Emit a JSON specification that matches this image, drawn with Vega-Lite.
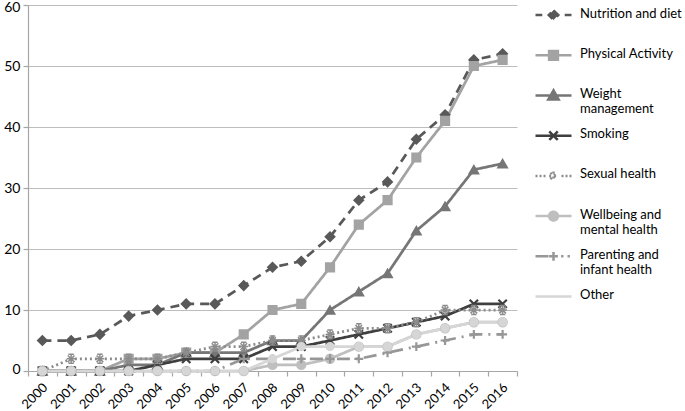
{
  "$schema": "https://vega.github.io/schema/vega-lite/v6.json",
  "width": 489,
  "height": 366,
  "autosize": {"type": "none"},
  "padding": {"left": 28, "top": 5, "right": 168, "bottom": 40},
  "background": "white",
  "config": {
    "view": {"stroke": null},
    "font": "Lato",
    "legend": {
      "orient": "none",
      "legendX": 506,
      "legendY": -7,
      "padding": 0,
      "rowPadding": 2.2,
      "gridAlign": "all",
      "labelFont": "Lato",
      "labelFontSize": 13,
      "labelColor": "#000000",
      "labelBaseline": "top",
      "labelOffset": 27,
      "labelLimit": 200,
      "symbolSize": 256,
      "symbolStrokeWidth": 2.5,
      "title": null
    }
  },
  "data": {
    "values": [
      {"series": "Nutrition and diet", "year": 2000, "count": 5},
      {"series": "Nutrition and diet", "year": 2001, "count": 5},
      {"series": "Nutrition and diet", "year": 2002, "count": 6},
      {"series": "Nutrition and diet", "year": 2003, "count": 9},
      {"series": "Nutrition and diet", "year": 2004, "count": 10},
      {"series": "Nutrition and diet", "year": 2005, "count": 11},
      {"series": "Nutrition and diet", "year": 2006, "count": 11},
      {"series": "Nutrition and diet", "year": 2007, "count": 14},
      {"series": "Nutrition and diet", "year": 2008, "count": 17},
      {"series": "Nutrition and diet", "year": 2009, "count": 18},
      {"series": "Nutrition and diet", "year": 2010, "count": 22},
      {"series": "Nutrition and diet", "year": 2011, "count": 28},
      {"series": "Nutrition and diet", "year": 2012, "count": 31},
      {"series": "Nutrition and diet", "year": 2013, "count": 38},
      {"series": "Nutrition and diet", "year": 2014, "count": 42},
      {"series": "Nutrition and diet", "year": 2015, "count": 51},
      {"series": "Nutrition and diet", "year": 2016, "count": 52},
      {"series": "Physical Activity", "year": 2000, "count": 0},
      {"series": "Physical Activity", "year": 2001, "count": 0},
      {"series": "Physical Activity", "year": 2002, "count": 0},
      {"series": "Physical Activity", "year": 2003, "count": 2},
      {"series": "Physical Activity", "year": 2004, "count": 2},
      {"series": "Physical Activity", "year": 2005, "count": 3},
      {"series": "Physical Activity", "year": 2006, "count": 3},
      {"series": "Physical Activity", "year": 2007, "count": 6},
      {"series": "Physical Activity", "year": 2008, "count": 10},
      {"series": "Physical Activity", "year": 2009, "count": 11},
      {"series": "Physical Activity", "year": 2010, "count": 17},
      {"series": "Physical Activity", "year": 2011, "count": 24},
      {"series": "Physical Activity", "year": 2012, "count": 28},
      {"series": "Physical Activity", "year": 2013, "count": 35},
      {"series": "Physical Activity", "year": 2014, "count": 41},
      {"series": "Physical Activity", "year": 2015, "count": 50},
      {"series": "Physical Activity", "year": 2016, "count": 51},
      {"series": "Weight management", "year": 2000, "count": 0},
      {"series": "Weight management", "year": 2001, "count": 0},
      {"series": "Weight management", "year": 2002, "count": 0},
      {"series": "Weight management", "year": 2003, "count": 1},
      {"series": "Weight management", "year": 2004, "count": 1},
      {"series": "Weight management", "year": 2005, "count": 3},
      {"series": "Weight management", "year": 2006, "count": 3},
      {"series": "Weight management", "year": 2007, "count": 3},
      {"series": "Weight management", "year": 2008, "count": 5},
      {"series": "Weight management", "year": 2009, "count": 5},
      {"series": "Weight management", "year": 2010, "count": 10},
      {"series": "Weight management", "year": 2011, "count": 13},
      {"series": "Weight management", "year": 2012, "count": 16},
      {"series": "Weight management", "year": 2013, "count": 23},
      {"series": "Weight management", "year": 2014, "count": 27},
      {"series": "Weight management", "year": 2015, "count": 33},
      {"series": "Weight management", "year": 2016, "count": 34},
      {"series": "Smoking", "year": 2000, "count": 0},
      {"series": "Smoking", "year": 2001, "count": 0},
      {"series": "Smoking", "year": 2002, "count": 0},
      {"series": "Smoking", "year": 2003, "count": 0},
      {"series": "Smoking", "year": 2004, "count": 1},
      {"series": "Smoking", "year": 2005, "count": 2},
      {"series": "Smoking", "year": 2006, "count": 2},
      {"series": "Smoking", "year": 2007, "count": 2},
      {"series": "Smoking", "year": 2008, "count": 4},
      {"series": "Smoking", "year": 2009, "count": 4},
      {"series": "Smoking", "year": 2010, "count": 5},
      {"series": "Smoking", "year": 2011, "count": 6},
      {"series": "Smoking", "year": 2012, "count": 7},
      {"series": "Smoking", "year": 2013, "count": 8},
      {"series": "Smoking", "year": 2014, "count": 9},
      {"series": "Smoking", "year": 2015, "count": 11},
      {"series": "Smoking", "year": 2016, "count": 11},
      {"series": "Sexual health", "year": 2000, "count": 0},
      {"series": "Sexual health", "year": 2001, "count": 2},
      {"series": "Sexual health", "year": 2002, "count": 2},
      {"series": "Sexual health", "year": 2003, "count": 2},
      {"series": "Sexual health", "year": 2004, "count": 2},
      {"series": "Sexual health", "year": 2005, "count": 3},
      {"series": "Sexual health", "year": 2006, "count": 4},
      {"series": "Sexual health", "year": 2007, "count": 4},
      {"series": "Sexual health", "year": 2008, "count": 5},
      {"series": "Sexual health", "year": 2009, "count": 5},
      {"series": "Sexual health", "year": 2010, "count": 6},
      {"series": "Sexual health", "year": 2011, "count": 7},
      {"series": "Sexual health", "year": 2012, "count": 7},
      {"series": "Sexual health", "year": 2013, "count": 8},
      {"series": "Sexual health", "year": 2014, "count": 10},
      {"series": "Sexual health", "year": 2015, "count": 10},
      {"series": "Sexual health", "year": 2016, "count": 10},
      {"series": "Wellbeing and mental health", "year": 2000, "count": 0},
      {"series": "Wellbeing and mental health", "year": 2001, "count": 0},
      {"series": "Wellbeing and mental health", "year": 2002, "count": 0},
      {"series": "Wellbeing and mental health", "year": 2003, "count": 0},
      {"series": "Wellbeing and mental health", "year": 2004, "count": 0},
      {"series": "Wellbeing and mental health", "year": 2005, "count": 0},
      {"series": "Wellbeing and mental health", "year": 2006, "count": 0},
      {"series": "Wellbeing and mental health", "year": 2007, "count": 0},
      {"series": "Wellbeing and mental health", "year": 2008, "count": 1},
      {"series": "Wellbeing and mental health", "year": 2009, "count": 1},
      {"series": "Wellbeing and mental health", "year": 2010, "count": 2},
      {"series": "Wellbeing and mental health", "year": 2011, "count": 4},
      {"series": "Wellbeing and mental health", "year": 2012, "count": 4},
      {"series": "Wellbeing and mental health", "year": 2013, "count": 6},
      {"series": "Wellbeing and mental health", "year": 2014, "count": 7},
      {"series": "Wellbeing and mental health", "year": 2015, "count": 8},
      {"series": "Wellbeing and mental health", "year": 2016, "count": 8},
      {"series": "Parenting and infant health", "year": 2000, "count": 0},
      {"series": "Parenting and infant health", "year": 2001, "count": 0},
      {"series": "Parenting and infant health", "year": 2002, "count": 0},
      {"series": "Parenting and infant health", "year": 2003, "count": 0},
      {"series": "Parenting and infant health", "year": 2004, "count": 0},
      {"series": "Parenting and infant health", "year": 2005, "count": 0},
      {"series": "Parenting and infant health", "year": 2006, "count": 0},
      {"series": "Parenting and infant health", "year": 2007, "count": 2},
      {"series": "Parenting and infant health", "year": 2008, "count": 2},
      {"series": "Parenting and infant health", "year": 2009, "count": 2},
      {"series": "Parenting and infant health", "year": 2010, "count": 2},
      {"series": "Parenting and infant health", "year": 2011, "count": 2},
      {"series": "Parenting and infant health", "year": 2012, "count": 3},
      {"series": "Parenting and infant health", "year": 2013, "count": 4},
      {"series": "Parenting and infant health", "year": 2014, "count": 5},
      {"series": "Parenting and infant health", "year": 2015, "count": 6},
      {"series": "Parenting and infant health", "year": 2016, "count": 6},
      {"series": "Other", "year": 2000, "count": 0},
      {"series": "Other", "year": 2001, "count": 0},
      {"series": "Other", "year": 2002, "count": 0},
      {"series": "Other", "year": 2003, "count": 0},
      {"series": "Other", "year": 2004, "count": 0},
      {"series": "Other", "year": 2005, "count": 0},
      {"series": "Other", "year": 2006, "count": 0},
      {"series": "Other", "year": 2007, "count": 0},
      {"series": "Other", "year": 2008, "count": 2},
      {"series": "Other", "year": 2009, "count": 4},
      {"series": "Other", "year": 2010, "count": 4},
      {"series": "Other", "year": 2011, "count": 4},
      {"series": "Other", "year": 2012, "count": 4},
      {"series": "Other", "year": 2013, "count": 6},
      {"series": "Other", "year": 2014, "count": 7},
      {"series": "Other", "year": 2015, "count": 8},
      {"series": "Other", "year": 2016, "count": 8}
    ]
  },
  "encoding": {
    "x": {
      "field": "year",
      "type": "quantitative",
      "scale": {"domain": [1999.5, 2016.5], "nice": false, "zero": false},
      "axis": {
        "title": null,
        "grid": false,
        "values": [1999.5, 2000.5, 2001.5, 2002.5, 2003.5, 2004.5, 2005.5, 2006.5, 2007.5, 2008.5, 2009.5, 2010.5, 2011.5, 2012.5, 2013.5, 2014.5, 2015.5, 2016.5],
        "labelExpr": "datum.value > 2016 ? '' : format(datum.value + 0.5, 'd')",
        "labelOffset": 17,
        "labelAngle": -45,
        "labelAlign": "right",
        "labelBaseline": "middle",
        "labelFont": "Lato",
        "labelFontSize": 13,
        "labelColor": "#000000",
        "labelPadding": 9,
        "labelOverlap": false,
        "labelFlush": false,
        "labelBound": false,
        "tickSize": 5,
        "tickColor": "#a6a6a6",
        "tickWidth": 1.2,
        "domainColor": "#a6a6a6",
        "domainWidth": 1.2
      }
    },
    "y": {
      "field": "count",
      "type": "quantitative",
      "scale": {"domain": [0, 60], "nice": false},
      "axis": {
        "title": null,
        "values": [0, 10, 20, 30, 40, 50, 60],
        "grid": true,
        "gridColor": "#bdbdbd",
        "gridWidth": 1.2,
        "labelFont": "Lato",
        "labelFontSize": 14,
        "labelColor": "#000000",
        "labelPadding": 3,
        "labelFlush": true,
        "labelFlushOffset": 5,
        "labelBound": false,
        "tickSize": 5,
        "tickColor": "#a6a6a6",
        "tickWidth": 1.2,
        "domainColor": "#a6a6a6",
        "domainWidth": 1.2
      }
    },
    "stroke": {
      "field": "series", "type": "nominal",
      "scale": {
        "domain": ["Nutrition and diet", "Physical Activity", "Weight management", "Smoking", "Sexual health", "Wellbeing and mental health", "Parenting and infant health", "Other"],
        "range": ["#595959", "#a3a3a3", "#767676", "#3f3f3f", "#8c8c8c", "#bfbfbf", "#979797", "#d6d6d6"]
      },
      "legend": {"labelExpr": "datum.label == 'Weight management' ? ['Weight', 'management'] : datum.label == 'Wellbeing and mental health' ? ['Wellbeing and', 'mental health'] : datum.label == 'Parenting and infant health' ? ['Parenting and', 'infant health'] : datum.label"}
    }
  },
  "layer": [
    {
      "mark": {"type": "line", "strokeWidth": 2.75},
      "encoding": {
        "strokeDash": {
          "field": "series", "type": "nominal", "legend": null,
          "scale": {
            "domain": ["Nutrition and diet", "Physical Activity", "Weight management", "Smoking", "Sexual health", "Wellbeing and mental health", "Parenting and infant health", "Other"],
            "range": [[9, 6], [1, 0], [1, 0], [1, 0], [2, 3], [1, 0], [13, 6, 2, 6], [1, 0]]
          }
        }
      }
    },
    {
      "transform": [{"filter": "datum.series == 'Nutrition and diet'"}],
      "mark": {"type": "point", "shape": "diamond", "filled": true, "size": 90, "strokeWidth": 1.5, "opacity": 1},
      "encoding": {"fill": {"field": "series", "type": "nominal", "scale": {"domain": ["Nutrition and diet", "Physical Activity", "Weight management", "Smoking", "Sexual health", "Wellbeing and mental health", "Parenting and infant health", "Other"], "range": ["#595959", "#a3a3a3", "#767676", "#3f3f3f", "#8c8c8c", "#bfbfbf", "#979797", "#d6d6d6"]}, "legend": {"labelExpr": "datum.label == 'Weight management' ? ['Weight', 'management'] : datum.label == 'Wellbeing and mental health' ? ['Wellbeing and', 'mental health'] : datum.label == 'Parenting and infant health' ? ['Parenting and', 'infant health'] : datum.label"}}}
    },
    {
      "transform": [{"filter": "datum.series == 'Physical Activity'"}],
      "mark": {"type": "point", "shape": "square", "filled": true, "size": 75, "strokeWidth": 1.5, "opacity": 1},
      "encoding": {"fill": {"field": "series", "type": "nominal"}}
    },
    {
      "transform": [{"filter": "datum.series == 'Weight management'"}],
      "mark": {"type": "point", "shape": "triangle-up", "filled": true, "size": 90, "strokeWidth": 1.5, "opacity": 1},
      "encoding": {"fill": {"field": "series", "type": "nominal"}}
    },
    {
      "transform": [{"filter": "datum.series == 'Smoking'"}],
      "mark": {"type": "point", "shape": "M-1,-1L1,1M-1,1L1,-1", "filled": true, "size": 70, "strokeWidth": 2.2, "opacity": 1},
      "encoding": {"fill": {"field": "series", "type": "nominal"}}
    },
    {
      "transform": [{"filter": "datum.series == 'Sexual health'"}],
      "mark": {"type": "point", "shape": "M-1,0H1M0,-1V1M-0.75,-0.75L0.75,0.75M-0.75,0.75L0.75,-0.75M-0.6,-1H0.6M-0.6,1H0.6", "filled": true, "size": 80, "strokeWidth": 1.5, "opacity": 1},
      "encoding": {"fill": {"field": "series", "type": "nominal"}}
    },
    {
      "transform": [{"filter": "datum.series == 'Wellbeing and mental health'"}],
      "mark": {"type": "point", "shape": "circle", "filled": true, "size": 80, "strokeWidth": 1.5, "opacity": 1},
      "encoding": {"fill": {"field": "series", "type": "nominal"}}
    },
    {
      "transform": [{"filter": "datum.series == 'Parenting and infant health'"}],
      "mark": {"type": "point", "shape": "M-1,0H1M0,-1V1", "filled": true, "size": 80, "strokeWidth": 2.2, "opacity": 1},
      "encoding": {"fill": {"field": "series", "type": "nominal"}}
    },
    {
      "transform": [{"filter": "datum.series == 'Other'"}],
      "mark": {"type": "point", "shape": "circle", "filled": true, "size": 60, "strokeWidth": 1.5, "opacity": 1},
      "encoding": {"fill": {"field": "series", "type": "nominal"}}
    },
    {
      "transform": [{"filter": "false"}],
      "mark": {"type": "point", "filled": true, "size": 256, "strokeWidth": 2.5, "opacity": 1},
      "encoding": {
        "fill": {"field": "series", "type": "nominal"},
        "shape": {
          "field": "series", "type": "nominal",
          "legend": {"labelExpr": "datum.label == 'Weight management' ? ['Weight', 'management'] : datum.label == 'Wellbeing and mental health' ? ['Wellbeing and', 'mental health'] : datum.label == 'Parenting and infant health' ? ['Parenting and', 'infant health'] : datum.label"},
          "scale": {
            "domain": ["Nutrition and diet", "Physical Activity", "Weight management", "Smoking", "Sexual health", "Wellbeing and mental health", "Parenting and infant health", "Other"],
            "range": [
              "M-1,0.95H-0.15M0.55,0.95H1.95M2.65,0.95H3.5M1.25,0.35L1.85,0.95L1.25,1.55L0.65,0.95Z",
              "M-1,0.95H3.5M0.7,0.4H1.8V1.5H0.7Z",
              "M-1,0.95H3.5M1.25,0.3L1.9,1.45H0.6Z",
              "M-1,0.95H3.5M0.72,0.42L1.78,1.48M0.72,1.48L1.78,0.42",
              "M-1,0.95H-0.75M-0.5,0.95H-0.25M0,0.95H0.25M2.25,0.95H2.5M2.75,0.95H3M3.25,0.95H3.5M0.7,0.95H1.8M1.25,0.4V1.5M0.86,0.56L1.64,1.34M0.86,1.34L1.64,0.56",
              "M-1,0.95H3.5M0.7,0.95A0.55,0.55 0 1,0 1.8,0.95A0.55,0.55 0 1,0 0.7,0.95Z",
              "M-1,0.95H1.6M2.2,0.95H2.5M3,0.95H3.3M0.7,0.95H1.8M1.25,0.4V1.5",
              "M-1,0.95H3.5"
            ]
          }
        }
      }
    }
  ]
}
